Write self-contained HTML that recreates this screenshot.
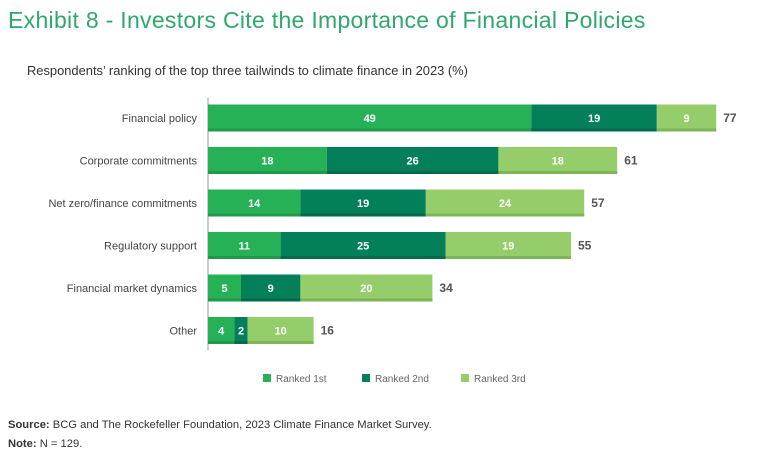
<!DOCTYPE html>
<html><head><meta charset="utf-8"><style>
body{margin:0;background:#fff;font-family:"Liberation Sans",sans-serif}
svg{display:block}
</style></head><body>
<svg width="768" height="467" xmlns="http://www.w3.org/2000/svg">
<text x="8" y="28" font-size="23" letter-spacing="0.3" fill="#2fa86e">Exhibit 8 - Investors Cite the Importance of Financial Policies</text>
<text x="27" y="75" font-size="12.9" fill="#333">Respondents’ ranking of the top three tailwinds to climate finance in 2023 (%)</text>
<line x1="208" y1="98" x2="208" y2="350" stroke="#bbb" stroke-width="1.5"/>
<g id="bars"></g>
<g>
<rect x="263" y="374" width="8" height="8" fill="#27b157"/>
<text x="276" y="382" font-size="10" fill="#666">Ranked 1st</text>
<rect x="362" y="374" width="8" height="8" fill="#037f5a"/>
<text x="375" y="382" font-size="10" fill="#666">Ranked 2nd</text>
<rect x="461" y="374" width="8" height="8" fill="#94cd6a"/>
<text x="474" y="382" font-size="10" fill="#666">Ranked 3rd</text>
</g>
<text x="8" y="428" font-size="11.2" fill="#333"><tspan font-weight="bold">Source:</tspan> BCG and The Rockefeller Foundation, 2023 Climate Finance Market Survey.</text>
<text x="8" y="447" font-size="11.2" fill="#333"><tspan font-weight="bold">Note:</tspan> N = 129.</text>
</svg>
<script>
const categories=["Financial policy","Corporate commitments","Net zero/finance commitments","Regulatory support","Financial market dynamics","Other"];
const ranked1=[49,18,14,11,5,4];
const ranked2=[19,26,19,25,9,2];
const ranked3=[9,18,24,19,20,10];
const totals=[77,61,57,55,34,16];
const NS="http://www.w3.org/2000/svg";
const x0=208, pxPerUnit=6.6, rowTop=104.5, rowStep=42.5, barH=27;
const xs=v=>x0+v*pxPerUnit;
const ys=i=>rowTop+i*rowStep;
const series=[[ranked1,"#27b157","#1f9a4a","1st"],[ranked2,"#037f5a","#026b4b","2nd"],[ranked3,"#94cd6a","#7db658","3rd"]];
const g=document.getElementById("bars");
function mk(tag,attrs){const e=document.createElementNS(NS,tag);for(const k in attrs)e.setAttribute(k,attrs[k]);return e;}
categories.forEach((c,i)=>{
  const y=ys(i);
  const lab=mk("text",{x:197,y:y+barH/2+4,"font-size":11,fill:"#444","text-anchor":"end"});
  lab.textContent=c;
  
  
  g.appendChild(lab);
  let acc=0;
  series.forEach(([arr,col,dark,nm])=>{
    const v=arr[i];
    const r=mk("rect",{x:xs(acc),y:y,width:xs(acc+v)-xs(acc),height:barH,fill:col});
    
    
    g.appendChild(r);
    const s=mk("rect",{x:xs(acc),y:y+barH-3,width:xs(acc+v)-xs(acc),height:3,fill:dark});
    
    
    g.appendChild(s);
    const t=mk("text",{x:(xs(acc)+xs(acc+v))/2,y:y+barH/2+4,"font-size":11,"font-weight":"bold",fill:"#fff","text-anchor":"middle"});
    t.textContent=v;
    
    
    g.appendChild(t);
    acc+=v;
  });
  const tt=mk("text",{x:xs(acc)+7,y:y+barH/2+4,"font-size":12,"font-weight":"bold",fill:"#555"});
  tt.textContent=totals[i];
  
  
  g.appendChild(tt);
});
</script>
</body></html>
